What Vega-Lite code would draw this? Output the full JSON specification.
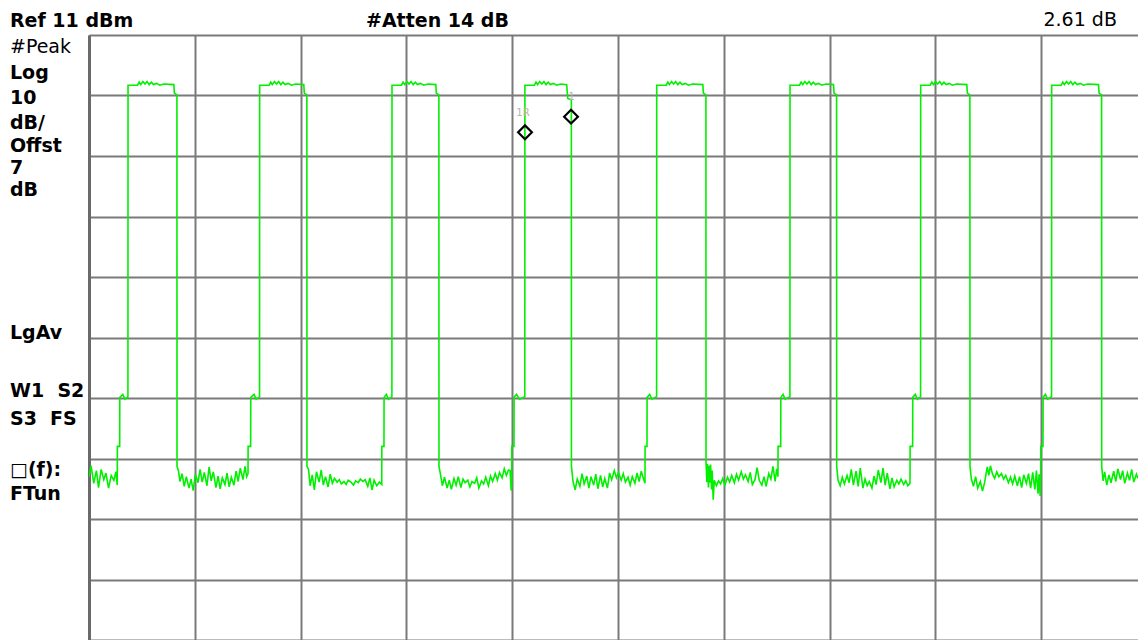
{
  "$schema": "https://vega.github.io/schema/vega-lite/v6.json",
  "width": 1049,
  "height": 605,
  "autosize": {"type": "none"},
  "padding": {"left": 89, "top": 35, "right": 0, "bottom": 0},
  "background": "white",
  "config": {"view": {"stroke": null}},
  "datasets": {
    "trace": [
      {"t":0,"p":-62.0},{"t":0.02,"p":-60.2},{"t":0.045,"p":-63.1},{"t":0.07,"p":-61.0},{"t":0.09,"p":-63.8},{"t":0.115,"p":-60.8},{"t":0.14,"p":-62.5},{"t":0.16,"p":-61.4},{"t":0.185,"p":-63.9},{"t":0.21,"p":-61.8},{"t":0.235,"p":-62.6},{"t":0.255,"p":-61.2},{"t":0.267,"p":-63.4},
      {"t":0.268,"p":-57},{"t":0.29,"p":-57},{"t":0.291,"p":-48.9},{"t":0.32,"p":-48.4},{"t":0.34,"p":-49.2},{"t":0.368,"p":-48.8},{"t":0.369,"p":2.7},{"t":0.459,"p":2.7},{"t":0.474,"p":3.2},{"t":0.489,"p":2.8},{"t":0.509,"p":3.3},{"t":0.529,"p":2.9},{"t":0.549,"p":3.3},{"t":0.569,"p":2.8},{"t":0.589,"p":3.2},{"t":0.609,"p":2.8},{"t":0.639,"p":3.0},{"t":0.669,"p":2.7},{"t":0.709,"p":2.9},{"t":0.802,"p":2.8},{"t":0.807,"p":1.4},{"t":0.831,"p":1.1},{"t":0.832,"p":-60.3},
      {"t":0.845,"p":-61.0},{"t":0.86,"p":-62.8},{"t":0.88,"p":-61.5},{"t":0.9,"p":-63.6},{"t":0.92,"p":-62.0},{"t":0.945,"p":-63.9},{"t":0.965,"p":-62.4},{"t":0.985,"p":-64.3},{"t":1.005,"p":-61.6},{"t":1.03,"p":-63.0},{"t":1.05,"p":-60.8},{"t":1.07,"p":-62.9},{"t":1.09,"p":-61.3},{"t":1.115,"p":-63.5},{"t":1.135,"p":-60.4},{"t":1.155,"p":-62.7},{"t":1.175,"p":-61.2},{"t":1.2,"p":-63.8},{"t":1.22,"p":-61.9},{"t":1.24,"p":-64.0},{"t":1.26,"p":-62.2},{"t":1.285,"p":-63.3},{"t":1.305,"p":-61.4},{"t":1.325,"p":-63.7},{"t":1.345,"p":-62.1},{"t":1.37,"p":-63.4},{"t":1.39,"p":-61.1},{"t":1.41,"p":-62.8},{"t":1.43,"p":-60.6},{"t":1.455,"p":-62.5},{"t":1.475,"p":-60.3},{"t":1.49,"p":-62.0},{"t":1.503,"p":-61.5},
      {"t":1.504,"p":-57},{"t":1.528,"p":-57},{"t":1.529,"p":-48.9},{"t":1.56,"p":-48.4},{"t":1.58,"p":-49.2},{"t":1.612,"p":-48.8},{"t":1.613,"p":2.7},{"t":1.703,"p":2.7},{"t":1.718,"p":3.2},{"t":1.733,"p":2.8},{"t":1.753,"p":3.3},{"t":1.773,"p":2.9},{"t":1.793,"p":3.3},{"t":1.813,"p":2.8},{"t":1.833,"p":3.2},{"t":1.853,"p":2.8},{"t":1.883,"p":3.0},{"t":1.913,"p":2.7},{"t":1.953,"p":2.9},{"t":2.03,"p":2.8},{"t":2.035,"p":1.4},{"t":2.059,"p":1.1},{"t":2.06,"p":-60.3},
      {"t":2.075,"p":-60.8},{"t":2.09,"p":-63.5},{"t":2.11,"p":-61.7},{"t":2.13,"p":-64.2},{"t":2.15,"p":-61.2},{"t":2.175,"p":-62.9},{"t":2.195,"p":-60.9},{"t":2.215,"p":-63.4},{"t":2.235,"p":-62.0},{"t":2.26,"p":-63.7},{"t":2.28,"p":-61.6},{"t":2.3,"p":-63.1},{"t":2.32,"p":-62.3},{"t":2.345,"p":-62.9},{"t":2.365,"p":-62.5},{"t":2.385,"p":-63.2},{"t":2.41,"p":-62.8},{"t":2.43,"p":-63.3},{"t":2.45,"p":-62.6},{"t":2.475,"p":-62.9},{"t":2.5,"p":-63.4},{"t":2.52,"p":-62.7},{"t":2.545,"p":-63.0},{"t":2.565,"p":-62.4},{"t":2.59,"p":-62.8},{"t":2.61,"p":-62.5},{"t":2.635,"p":-63.6},{"t":2.655,"p":-62.2},{"t":2.675,"p":-64.2},{"t":2.695,"p":-62.6},{"t":2.72,"p":-63.5},{"t":2.745,"p":-62.9},{"t":2.767,"p":-63.3},
      {"t":2.768,"p":-57},{"t":2.788,"p":-57},{"t":2.789,"p":-48.9},{"t":2.81,"p":-48.4},{"t":2.83,"p":-49.2},{"t":2.863,"p":-48.8},{"t":2.864,"p":2.7},{"t":2.954,"p":2.7},{"t":2.969,"p":3.2},{"t":2.984,"p":2.8},{"t":3.004,"p":3.3},{"t":3.024,"p":2.9},{"t":3.044,"p":3.3},{"t":3.064,"p":2.8},{"t":3.084,"p":3.2},{"t":3.104,"p":2.8},{"t":3.134,"p":3.0},{"t":3.164,"p":2.7},{"t":3.204,"p":2.9},{"t":3.278,"p":2.8},{"t":3.283,"p":1.4},{"t":3.307,"p":1.1},{"t":3.308,"p":-60.3},
      {"t":3.32,"p":-61.4},{"t":3.34,"p":-63.5},{"t":3.36,"p":-62.1},{"t":3.385,"p":-63.9},{"t":3.405,"p":-62.6},{"t":3.425,"p":-64.1},{"t":3.45,"p":-62.3},{"t":3.47,"p":-63.4},{"t":3.49,"p":-62.0},{"t":3.515,"p":-63.8},{"t":3.535,"p":-62.4},{"t":3.555,"p":-63.0},{"t":3.58,"p":-62.6},{"t":3.6,"p":-63.7},{"t":3.62,"p":-62.8},{"t":3.645,"p":-63.1},{"t":3.665,"p":-62.2},{"t":3.685,"p":-63.9},{"t":3.71,"p":-62.7},{"t":3.73,"p":-63.2},{"t":3.75,"p":-62.1},{"t":3.775,"p":-63.5},{"t":3.795,"p":-61.9},{"t":3.815,"p":-62.8},{"t":3.84,"p":-61.5},{"t":3.86,"p":-62.6},{"t":3.88,"p":-61.3},{"t":3.905,"p":-62.2},{"t":3.925,"p":-60.7},{"t":3.945,"p":-61.8},{"t":3.965,"p":-60.9},{"t":3.98,"p":-61.0},{"t":3.99,"p":-64.3},{"t":3.995,"p":-63.8},
      {"t":3.996,"p":-57},{"t":4.017,"p":-57},{"t":4.018,"p":-48.9},{"t":4.04,"p":-48.4},{"t":4.07,"p":-49.2},{"t":4.119,"p":-48.8},{"t":4.12,"p":2.7},{"t":4.21,"p":2.7},{"t":4.225,"p":3.2},{"t":4.24,"p":2.8},{"t":4.26,"p":3.3},{"t":4.28,"p":2.9},{"t":4.3,"p":3.3},{"t":4.32,"p":2.8},{"t":4.34,"p":3.2},{"t":4.36,"p":2.8},{"t":4.39,"p":3.0},{"t":4.42,"p":2.7},{"t":4.46,"p":2.9},{"t":4.515,"p":2.8},{"t":4.525,"p":0.5},{"t":4.559,"p":0.3},{"t":4.56,"p":-60.3},
      {"t":4.575,"p":-62.8},{"t":4.595,"p":-64.2},{"t":4.615,"p":-62.4},{"t":4.64,"p":-63.6},{"t":4.66,"p":-61.5},{"t":4.68,"p":-63.2},{"t":4.705,"p":-61.9},{"t":4.725,"p":-63.9},{"t":4.745,"p":-62.0},{"t":4.77,"p":-63.4},{"t":4.79,"p":-61.6},{"t":4.81,"p":-64.0},{"t":4.835,"p":-61.8},{"t":4.855,"p":-63.7},{"t":4.875,"p":-62.3},{"t":4.9,"p":-63.9},{"t":4.92,"p":-61.4},{"t":4.94,"p":-62.5},{"t":4.965,"p":-61.0},{"t":4.985,"p":-62.2},{"t":5.005,"p":-61.3},{"t":5.03,"p":-62.6},{"t":5.05,"p":-61.5},{"t":5.07,"p":-62.9},{"t":5.095,"p":-62.1},{"t":5.115,"p":-63.4},{"t":5.135,"p":-62.0},{"t":5.16,"p":-63.1},{"t":5.18,"p":-61.4},{"t":5.2,"p":-62.8},{"t":5.22,"p":-61.1},{"t":5.24,"p":-62.3},{"t":5.255,"p":-63.1},
      {"t":5.256,"p":-57},{"t":5.274,"p":-57},{"t":5.275,"p":-48.9},{"t":5.3,"p":-48.4},{"t":5.32,"p":-49.2},{"t":5.365,"p":-48.8},{"t":5.366,"p":2.7},{"t":5.456,"p":2.7},{"t":5.471,"p":3.2},{"t":5.486,"p":2.8},{"t":5.506,"p":3.3},{"t":5.526,"p":2.9},{"t":5.546,"p":3.3},{"t":5.566,"p":2.8},{"t":5.586,"p":3.2},{"t":5.606,"p":2.8},{"t":5.636,"p":3.0},{"t":5.666,"p":2.7},{"t":5.706,"p":2.9},{"t":5.802,"p":2.8},{"t":5.807,"p":1.4},{"t":5.831,"p":1.1},{"t":5.832,"p":-59.5},
      {"t":5.84,"p":-62.9},{"t":5.845,"p":-59.9},{"t":5.855,"p":-63.8},{"t":5.86,"p":-60.2},{"t":5.87,"p":-63.0},{"t":5.875,"p":-60.0},{"t":5.885,"p":-64.1},{"t":5.89,"p":-61.0},{"t":5.9,"p":-65.8},{"t":5.91,"p":-62.6},{"t":5.93,"p":-63.5},{"t":5.95,"p":-62.7},{"t":5.97,"p":-63.2},{"t":5.99,"p":-62.3},{"t":6.01,"p":-63.4},{"t":6.035,"p":-62.1},{"t":6.055,"p":-62.9},{"t":6.075,"p":-61.8},{"t":6.1,"p":-63.0},{"t":6.12,"p":-61.6},{"t":6.14,"p":-62.6},{"t":6.165,"p":-61.2},{"t":6.185,"p":-62.4},{"t":6.205,"p":-61.7},{"t":6.23,"p":-62.8},{"t":6.25,"p":-61.3},{"t":6.27,"p":-63.3},{"t":6.295,"p":-62.5},{"t":6.315,"p":-60.5},{"t":6.335,"p":-62.6},{"t":6.36,"p":-63.4},{"t":6.38,"p":-62.0},{"t":6.4,"p":-63.6},{"t":6.425,"p":-61.5},{"t":6.445,"p":-62.4},{"t":6.465,"p":-60.3},{"t":6.485,"p":-62.8},{"t":6.5,"p":-60.7},{"t":6.512,"p":-62.0},
      {"t":6.513,"p":-57},{"t":6.538,"p":-57},{"t":6.539,"p":-48.9},{"t":6.56,"p":-48.4},{"t":6.58,"p":-49.2},{"t":6.625,"p":-48.8},{"t":6.626,"p":2.7},{"t":6.716,"p":2.7},{"t":6.731,"p":3.2},{"t":6.746,"p":2.8},{"t":6.766,"p":3.3},{"t":6.786,"p":2.9},{"t":6.806,"p":3.3},{"t":6.826,"p":2.8},{"t":6.846,"p":3.2},{"t":6.866,"p":2.8},{"t":6.896,"p":3.0},{"t":6.926,"p":2.7},{"t":6.966,"p":2.9},{"t":7.037,"p":2.8},{"t":7.042,"p":1.4},{"t":7.066,"p":1.1},{"t":7.067,"p":-60.3},
      {"t":7.08,"p":-62.6},{"t":7.1,"p":-63.5},{"t":7.12,"p":-62.1},{"t":7.14,"p":-63.2},{"t":7.165,"p":-61.8},{"t":7.185,"p":-63.0},{"t":7.205,"p":-60.8},{"t":7.225,"p":-63.4},{"t":7.25,"p":-61.1},{"t":7.27,"p":-63.6},{"t":7.29,"p":-60.6},{"t":7.315,"p":-63.9},{"t":7.335,"p":-62.4},{"t":7.355,"p":-63.5},{"t":7.375,"p":-62.8},{"t":7.4,"p":-63.9},{"t":7.42,"p":-61.9},{"t":7.44,"p":-63.3},{"t":7.46,"p":-60.9},{"t":7.485,"p":-63.0},{"t":7.505,"p":-60.6},{"t":7.525,"p":-63.4},{"t":7.545,"p":-61.4},{"t":7.57,"p":-64.0},{"t":7.59,"p":-62.2},{"t":7.61,"p":-63.7},{"t":7.635,"p":-62.6},{"t":7.655,"p":-63.2},{"t":7.675,"p":-62.4},{"t":7.7,"p":-63.3},{"t":7.72,"p":-62.7},{"t":7.74,"p":-63.5},{"t":7.76,"p":-63.1},
      {"t":7.761,"p":-57},{"t":7.785,"p":-57},{"t":7.786,"p":-48.9},{"t":7.81,"p":-48.4},{"t":7.83,"p":-49.2},{"t":7.86,"p":-48.8},{"t":7.861,"p":2.7},{"t":7.951,"p":2.7},{"t":7.966,"p":3.2},{"t":7.981,"p":2.8},{"t":8.001,"p":3.3},{"t":8.021,"p":2.9},{"t":8.041,"p":3.3},{"t":8.061,"p":2.8},{"t":8.081,"p":3.2},{"t":8.101,"p":2.8},{"t":8.131,"p":3.0},{"t":8.161,"p":2.7},{"t":8.201,"p":2.9},{"t":8.297,"p":2.8},{"t":8.302,"p":1.4},{"t":8.326,"p":1.1},{"t":8.327,"p":-60.3},
      {"t":8.34,"p":-62.4},{"t":8.36,"p":-63.6},{"t":8.38,"p":-62.0},{"t":8.4,"p":-63.9},{"t":8.425,"p":-62.8},{"t":8.445,"p":-64.4},{"t":8.465,"p":-63.0},{"t":8.49,"p":-60.4},{"t":8.505,"p":-61.8},{"t":8.52,"p":-60.2},{"t":8.54,"p":-61.6},{"t":8.56,"p":-62.3},{"t":8.58,"p":-61.2},{"t":8.6,"p":-62.0},{"t":8.625,"p":-61.5},{"t":8.645,"p":-62.4},{"t":8.665,"p":-61.8},{"t":8.69,"p":-63.0},{"t":8.71,"p":-62.1},{"t":8.73,"p":-63.2},{"t":8.75,"p":-61.9},{"t":8.775,"p":-63.5},{"t":8.795,"p":-62.0},{"t":8.815,"p":-63.8},{"t":8.835,"p":-61.7},{"t":8.86,"p":-63.1},{"t":8.88,"p":-61.5},{"t":8.9,"p":-63.9},{"t":8.92,"p":-61.3},{"t":8.94,"p":-64.1},{"t":8.955,"p":-61.0},{"t":8.97,"p":-64.8},{"t":8.98,"p":-61.6},{"t":8.99,"p":-65.2},{"t":8.995,"p":-61.9},
      {"t":8.996,"p":-57},{"t":9.017,"p":-57},{"t":9.018,"p":-48.9},{"t":9.04,"p":-48.4},{"t":9.06,"p":-49.2},{"t":9.098,"p":-48.8},{"t":9.099,"p":2.7},{"t":9.189,"p":2.7},{"t":9.204,"p":3.2},{"t":9.219,"p":2.8},{"t":9.239,"p":3.3},{"t":9.259,"p":2.9},{"t":9.279,"p":3.3},{"t":9.299,"p":2.8},{"t":9.319,"p":3.2},{"t":9.339,"p":2.8},{"t":9.369,"p":3.0},{"t":9.399,"p":2.7},{"t":9.439,"p":2.9},{"t":9.542,"p":2.8},{"t":9.547,"p":1.4},{"t":9.571,"p":1.1},{"t":9.572,"p":-60.3},
      {"t":9.585,"p":-62.7},{"t":9.6,"p":-61.2},{"t":9.62,"p":-63.4},{"t":9.64,"p":-61.7},{"t":9.66,"p":-63.0},{"t":9.685,"p":-61.1},{"t":9.705,"p":-62.8},{"t":9.725,"p":-60.7},{"t":9.75,"p":-62.5},{"t":9.77,"p":-61.0},{"t":9.79,"p":-63.1},{"t":9.815,"p":-61.4},{"t":9.835,"p":-62.6},{"t":9.855,"p":-60.8},{"t":9.875,"p":-62.9},{"t":9.9,"p":-61.6},{"t":9.915,"p":-62.3}
    ],
    "markers": [
      {"t":4.121,"p":-5.08,"name":"1R"},
      {"t":4.556,"p":-2.5,"name":"1"}
    ],
    "markerLabels": [
      {"t":4.102,"p":-1.84,"label":"1R"},
      {"t":4.562,"p":0.8,"label":"1"}
    ],
    "boldText": [
      {"t":-0.747,"p":13.31,"label":"Ref 11 dBm"},
      {"t":2.618,"p":13.31,"label":"#Atten 14 dB"},
      {"t":-0.747,"p":4.72,"label":"Log"},
      {"t":-0.747,"p":0.59,"label":"10"},
      {"t":-0.747,"p":-3.55,"label":"dB/"},
      {"t":-0.747,"p":-7.35,"label":"Offst"},
      {"t":-0.747,"p":-10.98,"label":"7"},
      {"t":-0.747,"p":-14.62,"label":"dB"},
      {"t":-0.747,"p":-38.26,"label":"LgAv"},
      {"t":-0.747,"p":-47.84,"label":"W1\u00a0\u00a0S2"},
      {"t":-0.747,"p":-52.47,"label":"S3\u00a0\u00a0FS"},
      {"t":-0.747,"p":-60.9,"label":"□(f):"},
      {"t":-0.747,"p":-64.87,"label":"FTun"}
    ],
    "plainText": [
      {"t":-0.747,"p":9.02,"label":"#Peak"}
    ],
    "rightText": [
      {"t":9.716,"p":13.48,"label":"2.61 dB"}
    ]
  },
  "encoding": {
    "x": {
      "field": "t",
      "type": "quantitative",
      "scale": {"domain": [0, 9.915], "nice": false, "zero": false},
      "axis": {
        "values": [0, 1, 2, 3, 4, 5, 6, 7, 8, 9],
        "grid": true, "labels": false, "ticks": false, "domain": false, "title": null,
        "gridColor": "#7a7a7a", "gridWidth": 2, "gridOpacity": 1
      }
    },
    "y": {
      "field": "p",
      "type": "quantitative",
      "scale": {"domain": [-89, 11], "nice": false, "zero": false},
      "axis": {
        "values": [11, 1, -9, -19, -29, -39, -49, -59, -69, -79, -89],
        "grid": true, "labels": false, "ticks": false, "title": null,
        "domain": true, "domainColor": "#6a6a6a", "domainWidth": 3,
        "gridColor": "#7a7a7a", "gridWidth": 2, "gridOpacity": 1
      }
    }
  },
  "layer": [
    {
      "data": {"name": "trace"},
      "mark": {"type": "line", "color": "#00f000", "strokeWidth": 1.6, "clip": true}
    },
    {
      "data": {"name": "markers"},
      "mark": {"type": "point", "shape": "diamond", "filled": false, "stroke": "#000000", "strokeWidth": 2.2, "size": 190, "opacity": 1}
    },
    {
      "data": {"name": "markerLabels"},
      "mark": {"type": "text", "font": "DejaVu Sans", "fontSize": 10, "color": "#b4b4b4", "align": "center", "baseline": "middle"},
      "encoding": {"text": {"field": "label"}}
    },
    {
      "data": {"name": "boldText"},
      "mark": {"type": "text", "font": "DejaVu Sans", "fontSize": 19, "fontWeight": "bold", "color": "#000000", "align": "left", "baseline": "middle", "clip": false},
      "encoding": {"text": {"field": "label"}}
    },
    {
      "data": {"name": "plainText"},
      "mark": {"type": "text", "font": "DejaVu Sans", "fontSize": 19, "color": "#000000", "align": "left", "baseline": "middle", "clip": false},
      "encoding": {"text": {"field": "label"}}
    },
    {
      "data": {"name": "rightText"},
      "mark": {"type": "text", "font": "DejaVu Sans", "fontSize": 19, "color": "#000000", "align": "right", "baseline": "middle", "clip": false},
      "encoding": {"text": {"field": "label"}}
    }
  ]
}
